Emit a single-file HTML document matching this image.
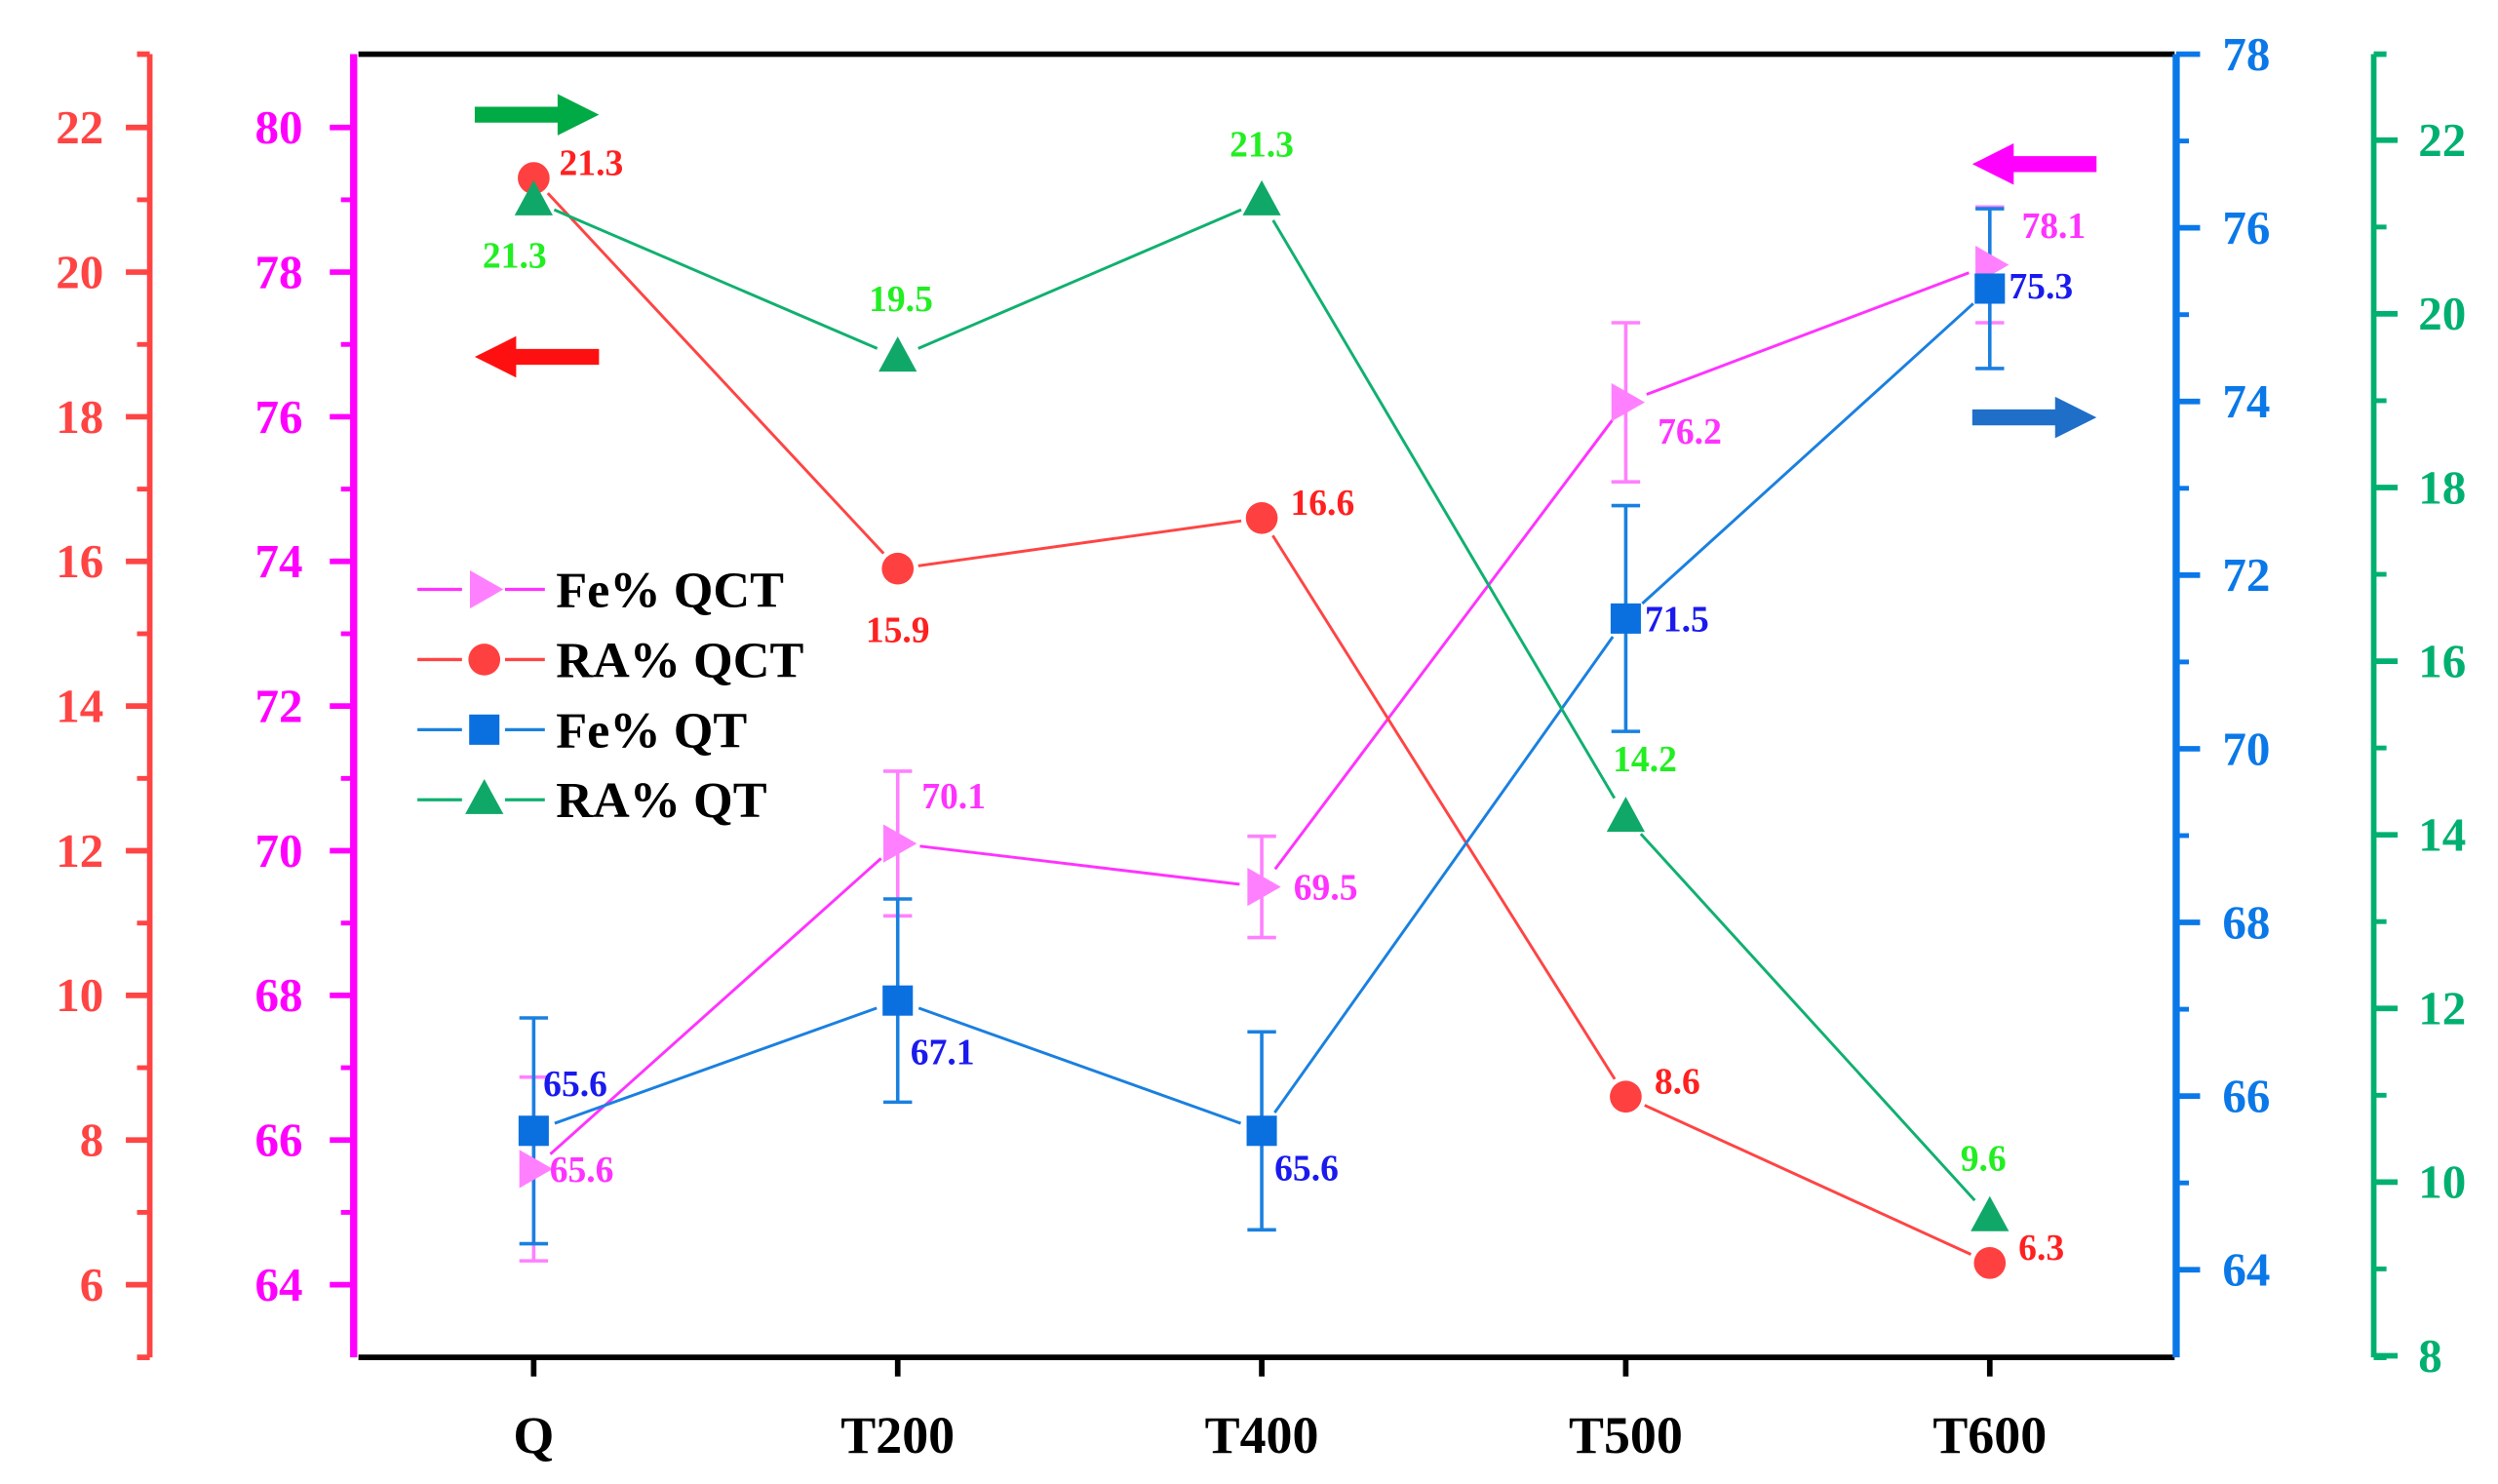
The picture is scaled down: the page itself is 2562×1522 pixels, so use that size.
<!DOCTYPE html>
<html><head><meta charset="utf-8"><style>
html,body{margin:0;padding:0;background:#fff;}
svg{display:block;}
text{font-family:"Liberation Serif",serif;font-weight:bold;}
</style></head><body>
<svg id="chart" width="2562" height="1522" viewBox="0 0 1568 931.5" xmlns="http://www.w3.org/2000/svg">
<g id="axes"></g>
<g id="series"></g>
<g id="legend"></g>
</svg>
<script>
const categories = ["Q","T200","T400","T500","T600"];
const feQCT = [65.6, 70.1, 69.5, 76.2, 78.1];
const feQCTErr = [1.27, 1.0, 0.7, 1.1, 0.8];
const raQCT = [21.3, 15.9, 16.6, 8.6, 6.3];
const feQT = [65.6, 67.1, 65.6, 71.5, 75.3];
const feQTErr = [1.3, 1.17, 1.14, 1.3, 0.92];
const raQT = [21.3, 19.5, 21.3, 14.2, 9.6];
const redTicks = [6,8,10,12,14,16,18,20,22];
const magTicks = [64,66,68,70,72,74,76,78,80];
const blueTicks = [64,66,68,70,72,74,76,78];
const greenTicks = [8,10,12,14,16,18,20,22];

const NS="http://www.w3.org/2000/svg";
const PL=225, PR=1365, PT=34, PB=852;
function xPos(i){ return 335 + i*228.5; }
function yRed(v){ return 80 + (22-v)*45.4; }
function yMag(v){ return 80 + (80-v)*45.4; }
function yBlue(v){ return 797 - (v-64)*54.5; }
function yGreen(v){ return 88 + (22-v)*54.5; }

function el(tag, attrs, parent, txt){
  const e=document.createElementNS(NS,tag);
  for(const k in attrs) e.setAttribute(k, attrs[k]);
  if(txt!==undefined) e.textContent=txt;
  parent.appendChild(e); return e;
}
const axes=document.getElementById('axes');
const series=document.getElementById('series');
const legend=document.getElementById('legend');

let f=el('line',{x1:PL,y1:PT,x2:PR,y2:PT,stroke:'#000','stroke-width':3.5},axes);


f=el('line',{x1:PL,y1:PB,x2:PR,y2:PB,stroke:'#000','stroke-width':3.5},axes);



categories.forEach((c,i)=>{
  const x=xPos(i);
  const t=el('line',{x1:x,y1:PB,x2:x,y2:PB+12,stroke:'#000','stroke-width':3.5},axes);
  
  
  const l=el('text',{x:x,y:912,'text-anchor':'middle','font-size':33,fill:'#000'},axes,c);
  
  
});

function vAxis(name,x,color,ticks,scale,dir,labelX,anchor,step,caps,lw){
  const a=el('line',{x1:x,y1:PT,x2:x,y2:PB,stroke:color,'stroke-width':lw},axes);
  
  
  if(caps){
    [PT,PB].forEach(yy=>{
      const c=el('line',{x1:x,y1:yy,x2:x+dir*8,y2:yy,stroke:color,'stroke-width':lw},axes);
      
      
    });
  }
  const done={};
  ticks.forEach(v=>{
    const y=scale(v);
    const t=el('line',{x1:x,y1:y,x2:x+dir*15,y2:y,stroke:color,'stroke-width':3.5},axes);
    
    
    const l=el('text',{x:labelX,y:y+10,'text-anchor':anchor,'font-size':30,fill:color},axes,String(v));
    
    
    [v+step/2, v-step/2].forEach(mv=>{
      const ym=scale(mv);
      if(!done[mv] && ym>PT+3 && ym<PB-3){
        done[mv]=1;
        const m=el('line',{x1:x,y1:ym,x2:x+dir*8,y2:ym,stroke:color,'stroke-width':3},axes);
        
        
      }
    });
  });
}
vAxis('red-left',94,'#ff4444',redTicks,yRed,-1,65,'end',2,true,3.5);
vAxis('magenta-left',222,'#ff00ff',magTicks,yMag,-1,190,'end',2,false,4.5);
vAxis('blue-right',1366,'#0a78e8',blueTicks,yBlue,1,1395,'start',2,false,4.5);
vAxis('green-right',1490,'#00b070',greenTicks,yGreen,1,1518,'start',2,true,3.5);

function arrow(name,x1,x2,y,color){
  const dir = x2>x1?1:-1;
  const hx = x2 - dir*26;
  const p=`M${x1},${y-5} L${hx},${y-5} L${hx},${y-13} L${x2},${y} L${hx},${y+13} L${hx},${y+5} L${x1},${y+5} Z`;
  const a=el('path',{d:p,fill:color},series);
  
  
}
arrow('green-arrow-right',298,376,72,'#00aa44');
arrow('red-arrow-left',376,298,224,'#ff1010');
arrow('magenta-arrow-left',1316,1238,103,'#ff00ff');
arrow('blue-arrow-right',1238,1316,262,'#1f6fc8');

function gappedLine(name,pts,color,gap){
  for(let i=0;i<pts.length-1;i++){
    const [x1,y1]=pts[i],[x2,y2]=pts[i+1];
    const dx=x2-x1,dy=y2-y1,L=Math.hypot(dx,dy);
    const ux=dx/L,uy=dy/L;
    const s=el('line',{x1:x1+ux*gap,y1:y1+uy*gap,x2:x2-ux*gap,y2:y2-uy*gap,stroke:color,'stroke-width':1.8},series);
    
    
  }
}
function errBars(name,vals,errs,scale,color){
  vals.forEach((v,i)=>{
    const x=xPos(i),yt=scale(v+errs[i]),yb=scale(v-errs[i]);
    const g=el('g',{stroke:color,'stroke-width':2.2},series);
    
    
    el('line',{x1:x,y1:yt,x2:x,y2:yb},g);
    el('line',{x1:x-9,y1:yt,x2:x+9,y2:yt},g);
    el('line',{x1:x-9,y1:yb,x2:x+9,y2:yb},g);
  });
}
function marker(kind,x,y,color,parent){
  let m;
  if(kind==='circle') m=el('circle',{cx:x,cy:y,r:10,fill:color},parent);
  else if(kind==='square') m=el('rect',{x:x-9.5,y:y-9.5,width:19,height:19,fill:color},parent);
  else if(kind==='tri') m=el('path',{d:`M${x},${y-13} L${x+12},${y+9} L${x-12},${y+9} Z`,fill:color},parent);
  else m=el('path',{d:`M${x-9},${y-12} L${x+12},${y} L${x-9},${y+12} Z`,fill:color},parent);
  return m;
}

const feQCTpts=feQCT.map((v,i)=>[xPos(i),yMag(v)]);
const raQCTpts=raQCT.map((v,i)=>[xPos(i),yRed(v)]);
const feQTpts=feQT.map((v,i)=>[xPos(i),yBlue(v)]);
const raQTpts=raQT.map((v,i)=>[xPos(i),yGreen(v)]);

gappedLine('fe-qct-line',feQCTpts,'#ff33ff',14);
gappedLine('ra-qct-line',raQCTpts,'#ff4444',13);
gappedLine('fe-qt-line',feQTpts,'#1a80e0',14);
gappedLine('ra-qt-line',raQTpts,'#10b070',14);

errBars('fe-qct',feQCT,feQCTErr,yMag,'#ff80ff');
errBars('fe-qt',feQT,feQTErr,yBlue,'#1a80e0');

feQCTpts.forEach(p=>{const m=marker('rtri',p[0],p[1],'#ff80ff',series);
  
  });
raQCTpts.forEach(p=>{const m=marker('circle',p[0],p[1],'#ff4040',series);
  
  });
feQTpts.forEach(p=>{const m=marker('square',p[0],p[1],'#0a70e0',series);
  
  });
raQTpts.forEach(p=>{const m=marker('tri',p[0],p[1],'#10a868',series);
  
  });

const raQCToff=[[16,-10,'start'],[0,38,'middle'],[18,-10,'start'],[18,-10,'start'],[18,-10,'start']];
const raQToff=[[-12,34,'middle'],[2,-37,'middle'],[0,-36,'middle'],[12,-37,'middle'],[-4,-37,'middle']];
const feQToff=[[6,-30,'start'],[8,32,'start'],[8,23,'start'],[12,0,'start'],[12,-2,'start']];
const feQCToff=[[10,0,'start'],[15,-30,'start'],[20,0,'start'],[20,18,'start'],[20,-25,'start']];
function valLabels(name,vals,pts,offs,color){
  vals.forEach((v,i)=>{
    const l=el('text',{x:pts[i][0]+offs[i][0],y:pts[i][1]+offs[i][1]+8,'text-anchor':offs[i][2],'font-size':23,fill:color},series,v.toFixed(1));
    
    
  });
}
valLabels('ra-qct',raQCT,raQCTpts,raQCToff,'#ff2020');
valLabels('ra-qt',raQT,raQTpts,raQToff,'#22ee22');
valLabels('fe-qt',feQT,feQTpts,feQToff,'#1a1aee');
valLabels('fe-qct',feQCT,feQCTpts,feQCToff,'#ff33ff');

const legItems=[['Fe% QCT','rtri','#ff33ff','#ff80ff'],['RA% QCT','circle','#ff4444','#ff4040'],['Fe% QT','square','#1a80e0','#0a70e0'],['RA% QT','tri','#10b070','#10a868']];
legItems.forEach((it,i)=>{
  const y=370+i*44;
  const g=el('g',{},legend);
  
  
  el('line',{x1:262,y1:y,x2:290,y2:y,stroke:it[2],'stroke-width':2},g);
  el('line',{x1:317,y1:y,x2:342,y2:y,stroke:it[2],'stroke-width':2},g);
  marker(it[1],304,y,it[3],g);
  el('text',{x:349,y:y+11,'font-size':32,fill:'#000'},g,it[0]);
});
</script>
</body></html>
